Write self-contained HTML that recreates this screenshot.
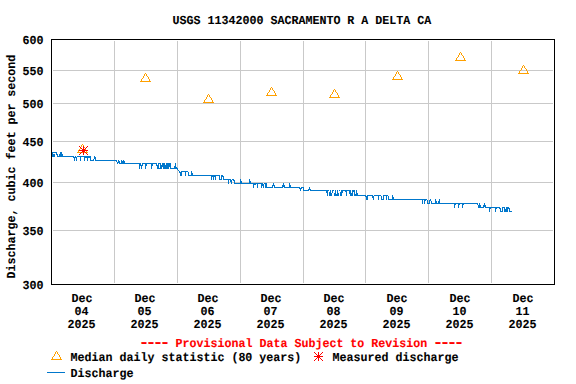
<!DOCTYPE html>
<html><head><meta charset="utf-8"><title>USGS 11342000 SACRAMENTO R A DELTA CA</title>
<style>
html,body{margin:0;padding:0;background:#fff;width:576px;height:384px;overflow:hidden}
svg{display:block}
.t text{text-rendering:geometricPrecision;font-family:"Liberation Mono",monospace;font-weight:bold;font-size:11.667px;stroke-width:0.1px}
</style></head><body>
<svg width="576" height="384" viewBox="0 0 576 384">
<g shape-rendering="crispEdges">
<path fill="#c9c9c9" d="M53 70h500v1h-500zM53 103h500v1h-500zM53 141h500v1h-500zM53 182h500v1h-500zM53 230h500v1h-500zM114 41h1v242h-1zM177 41h1v242h-1zM240 41h1v242h-1zM303 41h1v242h-1zM365 41h1v242h-1zM428 41h1v242h-1zM491 41h1v242h-1z"/>
<path fill="#000" d="M51 39h504v1h-504zM51 284h504v1h-504zM51 39h1v246h-1zM554 39h1v246h-1z"/>
<path fill="#ffa000" d="M460 52h1v1h-1zM459 53h1v1h-1zM461 53h1v1h-1zM459 54h1v1h-1zM461 54h1v1h-1zM458 55h1v1h-1zM462 55h1v1h-1zM458 56h1v1h-1zM463 56h1v1h-1zM457 57h1v1h-1zM463 57h1v1h-1zM456 58h1v1h-1zM464 58h1v1h-1zM456 59h1v1h-1zM464 59h1v1h-1zM455 60h11v1h-11zM523 65h1v1h-1zM522 66h1v1h-1zM524 66h1v1h-1zM522 67h1v1h-1zM524 67h1v1h-1zM521 68h1v1h-1zM525 68h1v1h-1zM521 69h1v1h-1zM526 69h1v1h-1zM520 70h1v1h-1zM526 70h1v1h-1zM397 71h1v1h-1zM519 71h1v1h-1zM527 71h1v1h-1zM396 72h1v1h-1zM398 72h1v1h-1zM519 72h1v1h-1zM527 72h1v1h-1zM145 73h1v1h-1zM396 73h1v1h-1zM398 73h1v1h-1zM518 73h11v1h-11zM144 74h1v1h-1zM146 74h1v1h-1zM395 74h1v1h-1zM399 74h1v1h-1zM144 75h1v1h-1zM146 75h1v1h-1zM395 75h1v1h-1zM400 75h1v1h-1zM143 76h1v1h-1zM147 76h1v1h-1zM394 76h1v1h-1zM400 76h1v1h-1zM143 77h1v1h-1zM148 77h1v1h-1zM393 77h1v1h-1zM401 77h1v1h-1zM142 78h1v1h-1zM148 78h1v1h-1zM393 78h1v1h-1zM401 78h1v1h-1zM141 79h1v1h-1zM149 79h1v1h-1zM392 79h11v1h-11zM141 80h1v1h-1zM149 80h1v1h-1zM140 81h11v1h-11zM271 87h1v1h-1zM270 88h1v1h-1zM272 88h1v1h-1zM270 89h1v1h-1zM272 89h1v1h-1zM334 89h1v1h-1zM269 90h1v1h-1zM273 90h1v1h-1zM333 90h1v1h-1zM335 90h1v1h-1zM269 91h1v1h-1zM274 91h1v1h-1zM333 91h1v1h-1zM335 91h1v1h-1zM268 92h1v1h-1zM274 92h1v1h-1zM332 92h1v1h-1zM336 92h1v1h-1zM267 93h1v1h-1zM275 93h1v1h-1zM332 93h1v1h-1zM337 93h1v1h-1zM208 94h1v1h-1zM267 94h1v1h-1zM275 94h1v1h-1zM331 94h1v1h-1zM337 94h1v1h-1zM207 95h1v1h-1zM209 95h1v1h-1zM266 95h11v1h-11zM330 95h1v1h-1zM338 95h1v1h-1zM207 96h1v1h-1zM209 96h1v1h-1zM330 96h1v1h-1zM338 96h1v1h-1zM206 97h1v1h-1zM210 97h1v1h-1zM329 97h11v1h-11zM206 98h1v1h-1zM211 98h1v1h-1zM205 99h1v1h-1zM211 99h1v1h-1zM204 100h1v1h-1zM212 100h1v1h-1zM204 101h1v1h-1zM212 101h1v1h-1zM203 102h11v1h-11zM82 144h1v1h-1zM81 145h1v1h-1zM83 145h1v1h-1zM81 146h1v1h-1zM83 146h1v1h-1zM80 147h1v1h-1zM84 147h1v1h-1zM80 148h1v1h-1zM85 148h1v1h-1zM79 149h1v1h-1zM85 149h1v1h-1zM78 150h1v1h-1zM86 150h1v1h-1zM78 151h1v1h-1zM86 151h1v1h-1zM77 152h11v1h-11zM56 351h1v1h-1zM55 352h1v1h-1zM57 352h1v1h-1zM55 353h1v1h-1zM57 353h1v1h-1zM54 354h1v1h-1zM58 354h1v1h-1zM54 355h1v1h-1zM59 355h1v1h-1zM53 356h1v1h-1zM59 356h1v1h-1zM52 357h1v1h-1zM60 357h1v1h-1zM52 358h1v1h-1zM60 358h1v1h-1zM51 359h11v1h-11z"/>
<path fill="#0077cc" d="M52 152h5v1h-5zM60 152h2v1h-2zM52 153h1v1h-1zM56 153h1v1h-1zM60 153h2v1h-2zM52 154h3v1h-3zM56 154h2v1h-2zM59 154h4v1h-4zM52 155h3v1h-3zM57 155h1v1h-1zM59 155h4v1h-4zM52 156h3v1h-3zM57 156h17v1h-17zM75 156h1v1h-1zM77 156h14v1h-14zM94 156h1v1h-1zM73 157h4v1h-4zM80 157h1v1h-1zM84 157h7v1h-7zM94 157h2v1h-2zM74 158h1v1h-1zM76 158h1v1h-1zM80 158h1v1h-1zM84 158h1v1h-1zM87 158h1v1h-1zM90 158h1v1h-1zM94 158h2v1h-2zM74 159h1v1h-1zM76 159h1v1h-1zM80 159h1v1h-1zM84 159h1v1h-1zM87 159h1v1h-1zM90 159h1v1h-1zM93 159h1v1h-1zM95 159h1v1h-1zM74 160h1v1h-1zM76 160h1v1h-1zM80 160h1v1h-1zM84 160h1v1h-1zM87 160h1v1h-1zM90 160h4v1h-4zM95 160h22v1h-22zM118 160h1v1h-1zM121 160h1v1h-1zM123 160h1v1h-1zM116 161h1v1h-1zM118 161h2v1h-2zM121 161h4v1h-4zM117 162h3v1h-3zM121 162h4v1h-4zM117 163h1v1h-1zM119 163h22v1h-22zM142 163h15v1h-15zM158 163h3v1h-3zM162 163h3v1h-3zM166 163h5v1h-5zM175 163h1v1h-1zM139 164h2v1h-2zM142 164h1v1h-1zM145 164h2v1h-2zM151 164h2v1h-2zM156 164h1v1h-1zM158 164h1v1h-1zM160 164h1v1h-1zM162 164h3v1h-3zM166 164h5v1h-5zM175 164h1v1h-1zM139 165h4v1h-4zM145 165h2v1h-2zM151 165h2v1h-2zM156 165h3v1h-3zM160 165h11v1h-11zM175 165h1v1h-1zM139 166h1v1h-1zM141 166h1v1h-1zM145 166h1v1h-1zM151 166h1v1h-1zM157 166h2v1h-2zM160 166h11v1h-11zM174 166h2v1h-2zM139 167h1v1h-1zM141 167h1v1h-1zM145 167h1v1h-1zM151 167h1v1h-1zM157 167h2v1h-2zM160 167h2v1h-2zM163 167h6v1h-6zM170 167h1v1h-1zM174 167h3v1h-3zM139 168h1v1h-1zM141 168h1v1h-1zM145 168h1v1h-1zM151 168h1v1h-1zM157 168h5v1h-5zM163 168h6v1h-6zM170 168h8v1h-8zM177 169h1v1h-1zM178 170h1v1h-1zM179 171h1v1h-1zM181 171h7v1h-7zM191 171h1v1h-1zM179 172h3v1h-3zM185 172h1v1h-1zM188 172h1v1h-1zM191 172h1v1h-1zM180 173h2v1h-2zM185 173h1v1h-1zM188 173h1v1h-1zM191 173h2v1h-2zM180 174h2v1h-2zM185 174h1v1h-1zM188 174h1v1h-1zM191 174h2v1h-2zM180 175h2v1h-2zM185 175h1v1h-1zM188 175h32v1h-32zM221 175h2v1h-2zM211 176h5v1h-5zM219 176h1v1h-1zM221 176h3v1h-3zM211 177h1v1h-1zM213 177h1v1h-1zM215 177h1v1h-1zM219 177h1v1h-1zM221 177h1v1h-1zM223 177h1v1h-1zM211 178h1v1h-1zM213 178h1v1h-1zM215 178h1v1h-1zM219 178h1v1h-1zM221 178h1v1h-1zM223 178h1v1h-1zM211 179h1v1h-1zM213 179h1v1h-1zM215 179h1v1h-1zM219 179h3v1h-3zM223 179h8v1h-8zM232 179h2v1h-2zM240 179h1v1h-1zM249 179h1v1h-1zM228 180h1v1h-1zM230 180h2v1h-2zM233 180h2v1h-2zM240 180h1v1h-1zM249 180h1v1h-1zM228 181h1v1h-1zM230 181h2v1h-2zM234 181h1v1h-1zM240 181h2v1h-2zM249 181h2v1h-2zM228 182h1v1h-1zM231 182h1v1h-1zM234 182h1v1h-1zM240 182h2v1h-2zM249 182h2v1h-2zM228 183h1v1h-1zM231 183h1v1h-1zM234 183h29v1h-29zM264 183h3v1h-3zM273 183h1v1h-1zM283 183h1v1h-1zM289 183h1v1h-1zM253 184h3v1h-3zM257 184h1v1h-1zM261 184h3v1h-3zM265 184h2v1h-2zM273 184h1v1h-1zM283 184h1v1h-1zM289 184h1v1h-1zM253 185h1v1h-1zM257 185h1v1h-1zM261 185h3v1h-3zM265 185h2v1h-2zM272 185h3v1h-3zM282 185h3v1h-3zM289 185h2v1h-2zM253 186h1v1h-1zM257 186h1v1h-1zM261 186h1v1h-1zM263 186h1v1h-1zM265 186h2v1h-2zM272 186h1v1h-1zM274 186h1v1h-1zM282 186h3v1h-3zM289 186h2v1h-2zM253 187h1v1h-1zM257 187h1v1h-1zM261 187h1v1h-1zM263 187h1v1h-1zM265 187h8v1h-8zM274 187h9v1h-9zM284 187h16v1h-16zM301 187h3v1h-3zM309 187h1v1h-1zM299 188h3v1h-3zM303 188h1v1h-1zM309 188h1v1h-1zM300 189h1v1h-1zM303 189h1v1h-1zM308 189h3v1h-3zM300 190h1v1h-1zM303 190h6v1h-6zM310 190h19v1h-19zM330 190h1v1h-1zM332 190h2v1h-2zM335 190h1v1h-1zM337 190h1v1h-1zM339 190h1v1h-1zM341 190h10v1h-10zM352 190h3v1h-3zM356 190h1v1h-1zM326 191h2v1h-2zM330 191h1v1h-1zM332 191h1v1h-1zM335 191h1v1h-1zM337 191h1v1h-1zM341 191h2v1h-2zM345 191h2v1h-2zM349 191h2v1h-2zM352 191h3v1h-3zM356 191h1v1h-1zM326 192h2v1h-2zM329 192h2v1h-2zM332 192h1v1h-1zM335 192h1v1h-1zM337 192h1v1h-1zM340 192h3v1h-3zM346 192h1v1h-1zM349 192h2v1h-2zM352 192h1v1h-1zM354 192h1v1h-1zM356 192h1v1h-1zM327 193h1v1h-1zM329 193h3v1h-3zM334 193h2v1h-2zM337 193h2v1h-2zM340 193h2v1h-2zM346 193h1v1h-1zM349 193h4v1h-4zM354 193h1v1h-1zM356 193h2v1h-2zM327 194h1v1h-1zM329 194h3v1h-3zM334 194h5v1h-5zM340 194h2v1h-2zM346 194h1v1h-1zM350 194h3v1h-3zM354 194h4v1h-4zM327 195h1v1h-1zM329 195h3v1h-3zM334 195h5v1h-5zM340 195h2v1h-2zM346 195h1v1h-1zM350 195h3v1h-3zM354 195h12v1h-12zM367 195h6v1h-6zM374 195h7v1h-7zM383 195h5v1h-5zM392 195h1v1h-1zM365 196h3v1h-3zM372 196h2v1h-2zM378 196h1v1h-1zM381 196h1v1h-1zM383 196h1v1h-1zM386 196h1v1h-1zM388 196h1v1h-1zM392 196h1v1h-1zM366 197h2v1h-2zM372 197h2v1h-2zM378 197h1v1h-1zM381 197h1v1h-1zM383 197h1v1h-1zM386 197h1v1h-1zM388 197h1v1h-1zM392 197h2v1h-2zM366 198h2v1h-2zM373 198h1v1h-1zM378 198h1v1h-1zM381 198h1v1h-1zM383 198h1v1h-1zM386 198h1v1h-1zM388 198h1v1h-1zM392 198h2v1h-2zM366 199h2v1h-2zM373 199h1v1h-1zM378 199h1v1h-1zM381 199h3v1h-3zM386 199h1v1h-1zM388 199h39v1h-39zM430 199h1v1h-1zM435 199h1v1h-1zM439 199h1v1h-1zM422 200h1v1h-1zM424 200h2v1h-2zM427 200h1v1h-1zM429 200h2v1h-2zM435 200h1v1h-1zM439 200h1v1h-1zM422 201h1v1h-1zM424 201h1v1h-1zM427 201h1v1h-1zM429 201h1v1h-1zM431 201h1v1h-1zM435 201h2v1h-2zM438 201h2v1h-2zM422 202h1v1h-1zM424 202h1v1h-1zM427 202h1v1h-1zM429 202h1v1h-1zM431 202h1v1h-1zM435 202h2v1h-2zM438 202h2v1h-2zM422 203h1v1h-1zM424 203h1v1h-1zM427 203h3v1h-3zM431 203h47v1h-47zM479 203h1v1h-1zM484 203h1v1h-1zM454 204h2v1h-2zM458 204h2v1h-2zM462 204h2v1h-2zM477 204h1v1h-1zM479 204h1v1h-1zM484 204h1v1h-1zM454 205h1v1h-1zM458 205h1v1h-1zM462 205h1v1h-1zM478 205h3v1h-3zM483 205h3v1h-3zM454 206h1v1h-1zM458 206h1v1h-1zM462 206h1v1h-1zM478 206h3v1h-3zM483 206h3v1h-3zM454 207h1v1h-1zM458 207h1v1h-1zM462 207h1v1h-1zM478 207h6v1h-6zM485 207h15v1h-15zM502 207h3v1h-3zM506 207h3v1h-3zM489 208h2v1h-2zM495 208h2v1h-2zM499 208h2v1h-2zM502 208h1v1h-1zM504 208h1v1h-1zM506 208h4v1h-4zM489 209h1v1h-1zM495 209h1v1h-1zM500 209h1v1h-1zM502 209h1v1h-1zM504 209h4v1h-4zM509 209h1v1h-1zM489 210h1v1h-1zM495 210h1v1h-1zM500 210h1v1h-1zM502 210h1v1h-1zM504 210h4v1h-4zM509 210h1v1h-1zM489 211h1v1h-1zM495 211h1v1h-1zM500 211h3v1h-3zM504 211h4v1h-4zM509 211h3v1h-3z"/>
<path fill="#0077cc" d="M47 372h18v1h-18z"/>
<path fill="#ff0000" d="M79 146h1v1h-1zM83 146h1v1h-1zM87 146h1v1h-1zM80 147h1v1h-1zM83 147h1v1h-1zM86 147h1v1h-1zM81 148h1v1h-1zM83 148h1v1h-1zM85 148h1v1h-1zM82 149h3v1h-3zM79 150h9v1h-9zM82 151h3v1h-3zM81 152h1v1h-1zM83 152h1v1h-1zM85 152h1v1h-1zM80 153h1v1h-1zM83 153h1v1h-1zM86 153h1v1h-1zM79 154h1v1h-1zM83 154h1v1h-1zM87 154h1v1h-1zM314 352h1v1h-1zM318 352h1v1h-1zM322 352h1v1h-1zM315 353h1v1h-1zM318 353h1v1h-1zM321 353h1v1h-1zM316 354h1v1h-1zM318 354h1v1h-1zM320 354h1v1h-1zM317 355h3v1h-3zM314 356h9v1h-9zM317 357h3v1h-3zM316 358h1v1h-1zM318 358h1v1h-1zM320 358h1v1h-1zM315 359h1v1h-1zM318 359h1v1h-1zM321 359h1v1h-1zM314 360h1v1h-1zM318 360h1v1h-1zM322 360h1v1h-1z"/>
<g class="t"><text transform="translate(172.5 24) scale(1 1.05)" fill="#000" stroke="#000">USGS 11342000 SACRAMENTO R A DELTA CA</text><text transform="translate(22.5 44) scale(1 1.05)" fill="#000" stroke="#000">600</text><text transform="translate(22.5 75) scale(1 1.05)" fill="#000" stroke="#000">550</text><text transform="translate(22.5 108) scale(1 1.05)" fill="#000" stroke="#000">500</text><text transform="translate(22.5 146) scale(1 1.05)" fill="#000" stroke="#000">450</text><text transform="translate(22.5 187) scale(1 1.05)" fill="#000" stroke="#000">400</text><text transform="translate(22.5 235) scale(1 1.05)" fill="#000" stroke="#000">350</text><text transform="translate(22.5 289) scale(1 1.05)" fill="#000" stroke="#000">300</text><text transform="translate(71.5 302) scale(1 1.05)" fill="#000" stroke="#000">Dec</text><text transform="translate(74.5 315) scale(1 1.05)" fill="#000" stroke="#000">04</text><text transform="translate(67.5 328) scale(1 1.05)" fill="#000" stroke="#000">2025</text><text transform="translate(134.5 302) scale(1 1.05)" fill="#000" stroke="#000">Dec</text><text transform="translate(137.5 315) scale(1 1.05)" fill="#000" stroke="#000">05</text><text transform="translate(130.5 328) scale(1 1.05)" fill="#000" stroke="#000">2025</text><text transform="translate(197.5 302) scale(1 1.05)" fill="#000" stroke="#000">Dec</text><text transform="translate(200.5 315) scale(1 1.05)" fill="#000" stroke="#000">06</text><text transform="translate(193.5 328) scale(1 1.05)" fill="#000" stroke="#000">2025</text><text transform="translate(260.5 302) scale(1 1.05)" fill="#000" stroke="#000">Dec</text><text transform="translate(263.5 315) scale(1 1.05)" fill="#000" stroke="#000">07</text><text transform="translate(256.5 328) scale(1 1.05)" fill="#000" stroke="#000">2025</text><text transform="translate(323.5 302) scale(1 1.05)" fill="#000" stroke="#000">Dec</text><text transform="translate(326.5 315) scale(1 1.05)" fill="#000" stroke="#000">08</text><text transform="translate(319.5 328) scale(1 1.05)" fill="#000" stroke="#000">2025</text><text transform="translate(386.5 302) scale(1 1.05)" fill="#000" stroke="#000">Dec</text><text transform="translate(389.5 315) scale(1 1.05)" fill="#000" stroke="#000">09</text><text transform="translate(382.5 328) scale(1 1.05)" fill="#000" stroke="#000">2025</text><text transform="translate(449.5 302) scale(1 1.05)" fill="#000" stroke="#000">Dec</text><text transform="translate(452.5 315) scale(1 1.05)" fill="#000" stroke="#000">10</text><text transform="translate(445.5 328) scale(1 1.05)" fill="#000" stroke="#000">2025</text><text transform="translate(512.5 302) scale(1 1.05)" fill="#000" stroke="#000">Dec</text><text transform="translate(515.5 315) scale(1 1.05)" fill="#000" stroke="#000">11</text><text transform="translate(508.5 328) scale(1 1.05)" fill="#000" stroke="#000">2025</text><text transform="translate(138.75 347) scale(1.5 1.3)" fill="#ff0000" stroke="#ff0000" style="letter-spacing:-2.333px">----</text><text transform="translate(175.5 347) scale(1 1.05)" fill="#ff0000" stroke="#ff0000">Provisional Data Subject to Revision</text><text transform="translate(432.75 347) scale(1.5 1.3)" fill="#ff0000" stroke="#ff0000" style="letter-spacing:-2.333px">----</text><text transform="translate(70.5 361) scale(1 1.05)" fill="#000" stroke="#000">Median daily statistic (80 years)</text><text transform="translate(332.5 361) scale(1 1.05)" fill="#000" stroke="#000">Measured discharge</text><text transform="translate(70.5 377) scale(1 1.05)" fill="#000" stroke="#000">Discharge</text><text transform="translate(15 278.5) rotate(-90) scale(1 1.05)" fill="#000" stroke="#000">Discharge, cubic feet per second</text></g>
</g>
</svg>
</body></html>
